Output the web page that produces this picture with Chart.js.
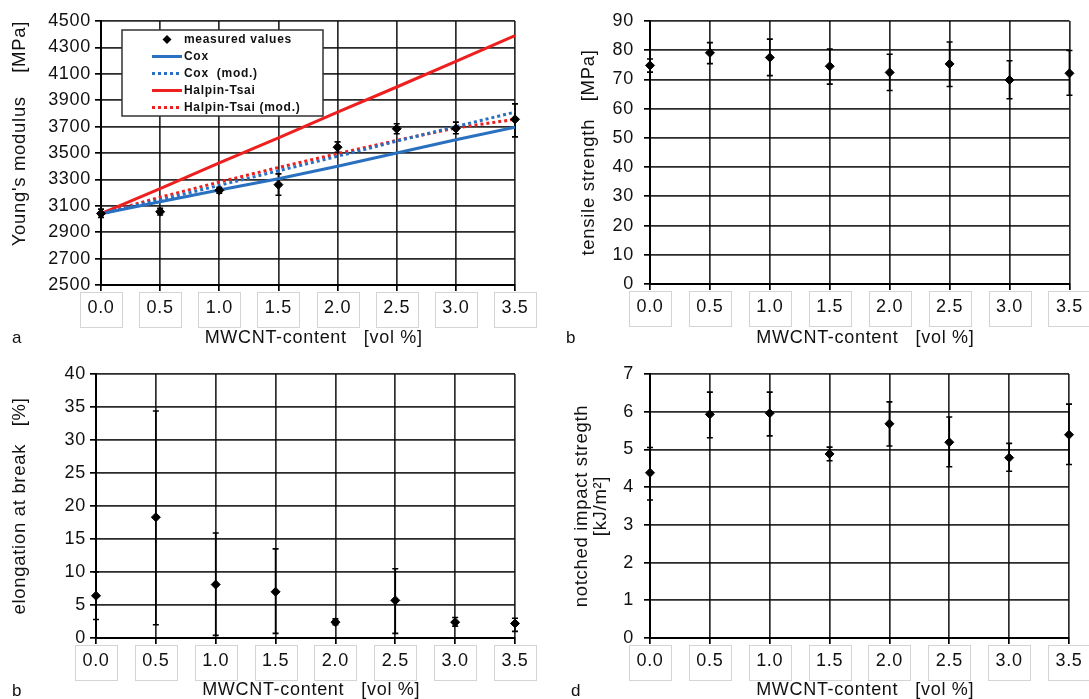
<!DOCTYPE html>
<html>
<head>
<meta charset="utf-8">
<script src="https://cdn.jsdelivr.net/npm/chart.js@4/dist/chart.umd.min.js"></script>
<style>
  html, body { margin: 0; padding: 0; background: #fff; overflow: hidden; }
  #page { position: relative; width: 1089px; height: 699px; }
  .panel { position: absolute; }
  .tag { position: absolute; font: 17px 'Liberation Sans', Arial, sans-serif; color: #111; }
</style>
</head>
<body>
<div id="page">
  <canvas class="panel" id="chartA" width="545" height="348" style="left:0;top:0"></canvas>
  <canvas class="panel" id="chartB" width="544" height="348" style="left:545px;top:0"></canvas>
  <canvas class="panel" id="chartC" width="545" height="352" style="left:0;top:350px"></canvas>
  <canvas class="panel" id="chartD" width="544" height="352" style="left:545px;top:350px"></canvas>
  <div class="tag" style="left:12px;top:328px">a</div>
  <div class="tag" style="left:566px;top:328px">b</div>
  <div class="tag" style="left:12px;top:681px">b</div>
  <div class="tag" style="left:571px;top:681px">d</div>
</div>
<script>
// MWCNT-Gehalt (x) fuer alle vier Diagramme
const xValues = [0.0, 0.5, 1.0, 1.5, 2.0, 2.5, 3.0, 3.5];
const xTickLabels = ['0.0', '0.5', '1.0', '1.5', '2.0', '2.5', '3.0', '3.5'];
const xTitle = '  MWCNT-content   [vol %]';

// a: E-Modul
const youngTicks = [2500, 2700, 2900, 3100, 3300, 3500, 3700, 3900, 4100, 4300, 4500];
const youngMeasured = [3042, 3055, 3217, 3260, 3544, 3684, 3686, 3755];
const youngLow = [3012, 3030, 3195, 3180, 3506, 3646, 3646, 3622];
const youngHigh = [3075, 3082, 3240, 3342, 3584, 3722, 3734, 3872];
const coxValues = [3040, 3130, 3220, 3305, 3400, 3500, 3600, 3695];
const coxModValues = [3040, 3145, 3255, 3365, 3475, 3590, 3700, 3810];
const halpinValues = [3040, 3230, 3425, 3615, 3810, 4000, 4195, 4390];
const halpinModValues = [3040, 3165, 3280, 3390, 3495, 3595, 3690, 3755];

// b: Zugfestigkeit
const tensileTicks = [0, 10, 20, 30, 40, 50, 60, 70, 80, 90];
const tensileValues = [74.8, 79.1, 77.5, 74.5, 72.4, 75.3, 69.8, 72.1];
const tensileLow = [72.5, 75.4, 71.3, 68.4, 66.2, 67.6, 63.4, 64.6];
const tensileHigh = [77.0, 82.6, 83.8, 80.4, 78.6, 82.8, 76.4, 79.9];

// c: Bruchdehnung
const elongationTicks = [0, 5, 10, 15, 20, 25, 30, 35, 40];
const elongationValues = [6.4, 18.3, 8.1, 7.0, 2.4, 5.7, 2.4, 2.2];
const elongationLow = [2.8, 2.0, 0.4, 0.7, 2.0, 0.7, 1.8, 1.0];
const elongationHigh = [10.0, 34.4, 15.9, 13.5, 2.9, 10.5, 3.1, 3.0];

// d: Kerbschlagzaehigkeit
const impactTicks = [0, 1, 2, 3, 4, 5, 6, 7];
const impactValues = [4.38, 5.93, 5.96, 4.88, 5.68, 5.19, 4.78, 5.39];
const impactLow = [3.66, 5.31, 5.36, 4.70, 5.09, 4.54, 4.42, 4.60];
const impactHigh = [5.05, 6.52, 6.52, 5.06, 6.26, 5.86, 5.16, 6.20];

const BLUE = '#2a70c0';
const RED = '#ee1f1f';
const GRID = 'rgba(15,15,15,0.88)';

Chart.defaults.font.family = "'Liberation Sans', Arial, sans-serif";
Chart.defaults.color = '#111';

const pts = (arr) => xValues.map((x, i) => ({ x, y: arr[i] }));

// Fehlerbalken unter die Messpunkte zeichnen
const errorBars = {
  id: 'errorBars',
  beforeDatasetsDraw(chart) {
    const { ctx, scales: { x, y } } = chart;
    chart.data.datasets.forEach(ds => {
      if (!ds.errLow) return;
      ctx.save();
      ctx.strokeStyle = '#000';
      ctx.lineWidth = 1.6;
      ds.data.forEach((p, i) => {
        const px = x.getPixelForValue(p.x);
        const lo = y.getPixelForValue(ds.errLow[i]);
        const hi = y.getPixelForValue(ds.errHigh[i]);
        ctx.beginPath();
        ctx.moveTo(px, lo); ctx.lineTo(px, hi);
        ctx.moveTo(px - 3, lo); ctx.lineTo(px + 3, lo);
        ctx.moveTo(px - 3, hi); ctx.lineTo(px + 3, hi);
        ctx.stroke();
      });
      ctx.restore();
    });
  }
};

// hellgraue Kaestchen um die x-Beschriftung
const tickBoxes = {
  id: 'tickBoxes',
  afterDraw(chart) {
    const { ctx } = chart;
    const sx = chart.scales.x;
    ctx.save();
    ctx.strokeStyle = '#d4d4d4';
    ctx.lineWidth = 1;
    sx.ticks.forEach(t => {
      const px = Math.round(sx.getPixelForValue(t.value));
      ctx.strokeRect(px - 21 + 0.5, Math.round(sx.top) + 7.5, 42, 35);
    });
    ctx.restore();
  }
};

// Legende im Diagramm (Kasten links oben)
const boxLegend = {
  id: 'boxLegend',
  afterDatasetsDraw(chart, args, o) {
    if (!o || !o.show) return;
    const { ctx } = chart;
    ctx.save();
    ctx.fillStyle = '#fff';
    ctx.fillRect(o.left, o.top, o.width, o.height);
    ctx.strokeStyle = '#333';
    ctx.lineWidth = 1.5;
    ctx.strokeRect(o.left, o.top, o.width, o.height);
    ctx.font = 'bold 12px ' + Chart.defaults.font.family;
    ctx.textBaseline = 'middle';
    chart.data.datasets.forEach((ds, i) => {
      const yy = o.top + o.firstRow + i * o.rowGap;
      if (ds.showLine === false) {
        ctx.fillStyle = '#000';
        ctx.beginPath();
        const cx = o.sampleX + o.sampleW / 2;
        ctx.moveTo(cx, yy - 4.5); ctx.lineTo(cx + 4.5, yy); ctx.lineTo(cx, yy + 4.5); ctx.lineTo(cx - 4.5, yy);
        ctx.closePath(); ctx.fill();
      } else {
        ctx.strokeStyle = ds.borderColor;
        ctx.lineWidth = 3;
        ctx.setLineDash(ds.borderDash || []);
        ctx.beginPath();
        ctx.moveTo(o.sampleX, yy); ctx.lineTo(o.sampleX + o.sampleW, yy);
        ctx.stroke();
        ctx.setLineDash([]);
      }
      ctx.fillStyle = '#111';
      ctx.fillText(ds.label, o.textX, yy);
    });
    ctx.restore();
  }
};

const spacing = {
  id: 'spacing',
  beforeLayout(chart) { chart.ctx.letterSpacing = '0.7px'; },
  beforeDraw(chart) { chart.ctx.letterSpacing = '0.7px'; }
};

Chart.register(errorBars, tickBoxes, boxLegend, spacing);

function measured(values, low, high) {
  return {
    label: 'measured values',
    data: pts(values),
    showLine: false,
    pointStyle: 'rectRot',
    pointRadius: 4.5,
    pointBackgroundColor: '#000',
    pointBorderColor: '#000',
    clip: false,
    errLow: low,
    errHigh: high
  };
}

function model(label, values, color, dash) {
  return {
    label,
    data: pts(values),
    showLine: true,
    borderColor: color,
    backgroundColor: color,
    borderWidth: 3,
    borderDash: dash,
    pointRadius: 0,
    fill: false
  };
}

function makePanel(id, cfg) {
  const canvas = document.getElementById(id);
  const W = canvas.width, H = canvas.height;
  const p = cfg.plot;
  return new Chart(canvas, {
    type: 'scatter',
    data: { datasets: cfg.datasets },
    options: {
      responsive: false,
      animation: false,
      layout: { padding: { left: 0, top: p.top, right: W - p.right, bottom: 0 } },
      plugins: {
        legend: { display: false },
        tooltip: { enabled: false },
        boxLegend: cfg.legend || { show: false }
      },
      scales: {
        x: {
          type: 'linear',
          min: 0,
          max: 3.5,
          afterBuildTicks: s => { s.ticks = xValues.map(v => ({ value: v })); },
          afterFit: s => { s.height = H - p.bottom; },
          ticks: {
            callback: (v, i) => xTickLabels[i],
            font: { size: 18 },
            padding: 6,
            maxRotation: 0,
            autoSkip: false
          },
          grid: { color: GRID, lineWidth: 1.7, tickLength: 6, tickColor: '#000' },
          border: { color: '#000', width: 2 },
          title: {
            display: true,
            text: xTitle,
            font: { size: 18, lineHeight: 1 },
            padding: { top: 0, bottom: cfg.xTitlePad }
          }
        },
        y: {
          type: 'linear',
          min: cfg.yTicks[0],
          max: cfg.yTicks[cfg.yTicks.length - 1],
          afterBuildTicks: s => { s.ticks = cfg.yTicks.map(v => ({ value: v })); },
          afterFit: s => { s.width = p.left; },
          ticks: {
            callback: v => String(v),
            font: { size: 18 },
            padding: cfg.yTickPad
          },
          grid: { color: GRID, lineWidth: 1.7, tickLength: 6, tickColor: '#000' },
          border: { color: '#000', width: 2 },
          title: {
            display: true,
            text: cfg.yTitle,
            align: cfg.yTitleAlign || 'center',
            font: { size: 18.5, lineHeight: 1 },
            padding: { top: cfg.yTitlePad, bottom: 0 }
          }
        }
      }
    }
  });
}

makePanel('chartA', {
  plot: { left: 101, top: 21, right: 515, bottom: 285 },
  yTicks: youngTicks,
  yTickPad: 4,
  yTitle: "Young's modulus    [MPa]",
  yTitleAlign: 'end',
  yTitlePad: 11,
  xTitlePad: 1,
  datasets: [
    measured(youngMeasured, youngLow, youngHigh),
    model('Cox', coxValues, BLUE, []),
    model('Cox  (mod.)', coxModValues, BLUE, [3, 3]),
    model('Halpin-Tsai', halpinValues, RED, []),
    model('Halpin-Tsai (mod.)', halpinModValues, RED, [3, 3])
  ],
  legend: { show: true, left: 122, top: 30, width: 201, height: 86, firstRow: 9.5, rowGap: 17, sampleX: 152, sampleW: 30, textX: 184 }
});

makePanel('chartB', {
  plot: { left: 105, top: 21, right: 525, bottom: 284 },
  yTicks: tensileTicks,
  yTickPad: 10,
  yTitle: 'tensile strength   [MPa]',
  yTitlePad: 35,
  xTitlePad: 1,
  datasets: [measured(tensileValues, tensileLow, tensileHigh)]
});

makePanel('chartC', {
  plot: { left: 96, top: 24, right: 515, bottom: 288 },
  yTicks: elongationTicks,
  yTickPad: 4,
  yTitle: 'elongation at break   [%]',
  yTitlePad: 11,
  xTitlePad: 2.5,
  datasets: [measured(elongationValues, elongationLow, elongationHigh)]
});

makePanel('chartD', {
  plot: { left: 105, top: 24, right: 524, bottom: 288 },
  yTicks: impactTicks,
  yTickPad: 10,
  yTitle: ['notched impact stregth', '[kJ/m²]'],
  yTitlePad: 28,
  xTitlePad: 2.5,
  datasets: [measured(impactValues, impactLow, impactHigh)]
});
</script>
</body>
</html>
